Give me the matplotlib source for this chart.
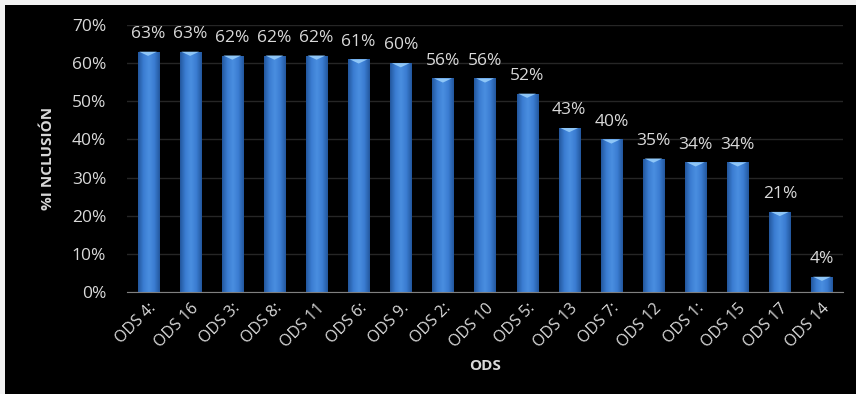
import matplotlib
matplotlib.use("Agg")
import matplotlib.pyplot as plt
import numpy as np
from matplotlib.patches import Rectangle, Polygon
from matplotlib.colors import LinearSegmentedColormap

categories = ["ODS 4:", "ODS 16", "ODS 3:", "ODS 8:", "ODS 11", "ODS 6:", "ODS 9.", "ODS 2:",
              "ODS 10", "ODS 5:", "ODS 13", "ODS 7:", "ODS 12", "ODS 1:", "ODS 15", "ODS 17", "ODS 14"]
values = [63, 63, 62, 62, 62, 61, 60, 56, 56, 52, 43, 40, 35, 34, 34, 21, 4]
yticks = [0, 10, 20, 30, 40, 50, 60, 70]

plt.rcParams['font.family'] = ['Open Sans', 'DejaVu Sans']
W, H = 856, 394
fig = plt.figure(figsize=(W/100, H/100), dpi=100, facecolor='#f2f2f2')
fig.patches.append(Rectangle((5/W, 0), 1, (H-5)/H, transform=fig.transFigure,
                             facecolor='black', edgecolor='none', zorder=-10))

ax = fig.add_axes([127/W, (H-292)/H, (843-127)/W, (292-25)/H])
ax.set_zorder(1)
ax.set_facecolor('black')
x = np.arange(len(categories))
bars = ax.bar(x, values, width=0.5, color='#3b7bd4', zorder=2)

cmap = LinearSegmentedColormap.from_list('cyl', ['#23579e', '#3b7dd2', '#4a8ee0', '#3b7dd2', '#23579e'])
grad = np.linspace(0, 1, 64).reshape(1, -1)
for b in bars:
    x0, w, h = b.get_x(), b.get_width(), b.get_height()
    im = ax.imshow(grad, cmap=cmap, extent=[x0, x0 + w, 0, h], aspect='auto', zorder=3)
    im.set_clip_path(b)
    ax.add_patch(Polygon([[x0 + w*0.08, h], [x0 + w*0.92, h], [x0 + w/2, h - 1.1]], closed=True,
                         facecolor='#8ec6f7', edgecolor='none', zorder=4))

for xi, v in zip(x, values):
    ax.annotate(f"{v}%", (xi, v), xytext=(0, 7), textcoords='offset points',
                ha='center', va='bottom', color='#d9d9d9', fontsize=12.5)

ax.set_xlim(-0.5, len(categories) - 0.5)
ax.set_ylim(0, 70)
ax.set_yticks(yticks)
ax.set_yticklabels([f"{t}%" for t in yticks], color='#d9d9d9', fontsize=12.5)
ax.set_xticks(x)
ax.set_xticklabels(categories, rotation=45, ha='right', rotation_mode='anchor', color='#d9d9d9', fontsize=11.5)
ax.tick_params(axis='y', length=0, pad=15)
ax.tick_params(axis='x', length=0, pad=6)
ax.grid(axis='y', color='#262626', lw=1, zorder=0)
for s in ['top', 'right', 'left']:
    ax.spines[s].set_visible(False)
ax.spines['bottom'].set_color('#808080')
ax.spines['bottom'].set_zorder(5)
ax.set_axisbelow(True)

ax.set_ylabel("%I NCLUSIÓN", color='#d9d9d9', fontsize=11, fontweight='bold', labelpad=12)
ax.set_xlabel("ODS", color='#d9d9d9', fontsize=11, fontweight='bold', labelpad=6)

fig.savefig("out.png", dpi=100, facecolor=fig.get_facecolor())
